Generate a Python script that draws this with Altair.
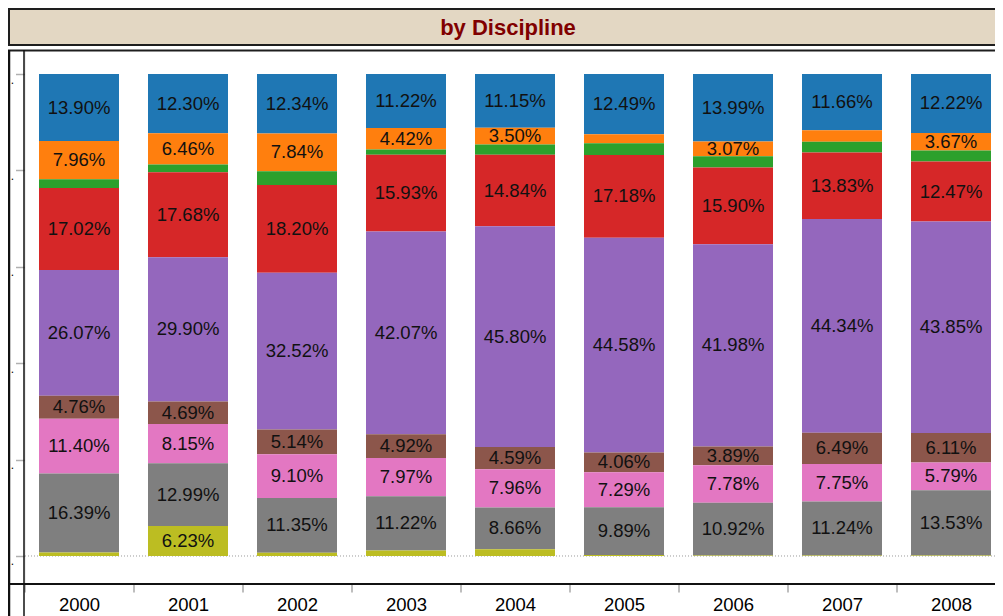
import altair as alt
import pandas as pd

years = ["2000", "2001", "2002", "2003", "2004", "2005", "2006", "2007", "2008"]

# disciplines listed from top of each bar to bottom
disciplines = ["Discipline 1", "Discipline 2", "Discipline 3", "Discipline 4", "Discipline 5",
               "Discipline 6", "Discipline 7", "Discipline 8", "Discipline 9"]
colors = ["#1f77b4", "#ff7f0e", "#2ca02c", "#d62728", "#9467bd",
          "#8c564b", "#e377c2", "#7f7f7f", "#bcbd22"]

d1 = [13.90, 12.30, 12.34, 11.22, 11.15, 12.49, 13.99, 11.66, 12.22]   # blue
d2 = [7.96, 6.46, 7.84, 4.42, 3.50, 1.90, 3.07, 2.40, 3.67]            # orange
d3 = [1.80, 1.60, 2.84, 1.10, 2.10, 2.40, 2.35, 2.20, 2.26]            # green
d4 = [17.02, 17.68, 18.20, 15.93, 14.84, 17.18, 15.90, 13.83, 12.47]   # red
d5 = [26.07, 29.90, 32.52, 42.07, 45.80, 44.58, 41.98, 44.34, 43.85]   # purple
d6 = [4.76, 4.69, 5.14, 4.92, 4.59, 4.06, 3.89, 6.49, 6.11]            # brown
d7 = [11.40, 8.15, 9.10, 7.97, 7.96, 7.29, 7.78, 7.75, 5.79]           # pink
d8 = [16.39, 12.99, 11.35, 11.22, 8.66, 9.89, 10.92, 11.24, 13.53]     # gray
d9 = [0.70, 6.23, 0.67, 1.15, 1.40, 0.21, 0.12, 0.09, 0.10]            # olive
series = [d1, d2, d3, d4, d5, d6, d7, d8, d9]

y_ticks = [0, 20, 40, 60, 80, 100]
title_text = "by Discipline"

rows = []
for k, (name, vals) in enumerate(zip(disciplines, series)):
    for yr, v in zip(years, vals):
        rows.append({"year": yr, "discipline": name, "order": len(disciplines) - k, "value": v})
df = pd.DataFrame(rows)

FONT = "Liberation Sans"
W, H = 970.5, 534
XR = 981  # x range of the band scale (last band runs past the window edge)

xscale = alt.Scale(type="band", domain=years, paddingInner=0, paddingOuter=0, range=[0, XR])
yscale = alt.Scale(domain=[-5.81, 104.98], nice=False, zero=False)

xaxis = alt.Axis(title=None, labelAngle=0, domain=False, grid=False,
                 tickColor="#a8a8a8", tickSize=8, tickWidth=1.5, tickBand="extent",
                 labelFont=FONT, labelFontSize=18.5, labelColor="#000000", labelPadding=3)
yaxis = alt.Axis(title=None, values=y_ticks, domain=False, grid=False,
                 tickColor="#b0b0b0", tickSize=9, tickWidth=1.5,
                 labelExpr="'.'", labelFont=FONT, labelFontSize=12, labelColor="#000000",
                 labelBaseline="alphabetic", labelOffset=9, labelPadding=2)

stacked = alt.Chart(df).transform_stack(
    stack="value", groupby=["year"], sort=[alt.SortField("order", "ascending")], as_=["y0", "y1"]
)

bars = stacked.mark_bar(width=80).encode(
    x=alt.X("year:N", scale=xscale, axis=xaxis),
    y=alt.Y("y0:Q", scale=yscale, axis=yaxis),
    y2="y1:Q",
    color=alt.Color("discipline:N", scale=alt.Scale(domain=disciplines, range=colors), legend=None),
)

labels = stacked.transform_filter("datum.value >= 3").transform_calculate(
    mid="(datum.y0 + datum.y1) / 2",
    label="format(datum.value, '.2f') + '%'",
).mark_text(font=FONT, fontSize=18.5, color="#111111", baseline="middle").encode(
    x=alt.X("year:N", scale=xscale, axis=xaxis),
    y=alt.Y("mid:Q", scale=yscale, axis=yaxis),
    text="label:N",
)

one = pd.DataFrame({"a": [0]})
zero_rule = alt.Chart(one).mark_rule(color="#9a9a9a", strokeDash=[1, 2], strokeWidth=1).encode(
    y=alt.Y(datum=0, type="quantitative", scale=yscale, axis=yaxis)
)

title_box = alt.Chart(one).mark_rect(fill="#E3D7C3", stroke="#1e1e1e", strokeWidth=2).encode(
    x=alt.value(-15.5), x2=alt.value(XR + 10), y=alt.value(-41), y2=alt.value(-5)
)
title = alt.Chart(one).mark_text(font=FONT, fontSize=22, fontWeight="bold", color="#800000",
                                 align="center", baseline="alphabetic").encode(
    x=alt.value(483.5), y=alt.value(-15), text=alt.value(title_text)
)
top_line = alt.Chart(one).mark_rule(color="#1e1e1e", strokeWidth=2).encode(
    x=alt.value(-16.5), x2=alt.value(XR + 10), y=alt.value(0.5)
)
bottom_line = alt.Chart(one).mark_rule(color="#111111", strokeWidth=2).encode(
    x=alt.value(-16.5), x2=alt.value(XR + 10), y=alt.value(H)
)
outer_left = alt.Chart(one).mark_rule(color="#111111", strokeWidth=2.5).encode(
    x=alt.value(-15.5), y=alt.value(0), y2=alt.value(H + 40)
)
inner_left = alt.Chart(one).mark_rule(color="#111111", strokeWidth=1.5).encode(
    x=alt.value(-0.5), y=alt.value(0), y2=alt.value(H + 40)
)

chart = alt.layer(
    title_box, title, zero_rule, bars, labels, top_line, bottom_line, outer_left, inner_left
).properties(
    width=W, height=H,
    padding={"left": 16.5, "top": 42, "right": 0, "bottom": 32},
    autosize=alt.AutoSizeParams(type="none"),
).configure_view(stroke=None).configure(background="#ffffff")

chart.save("out.html", embed_options={"renderer": "svg", "actions": False})
